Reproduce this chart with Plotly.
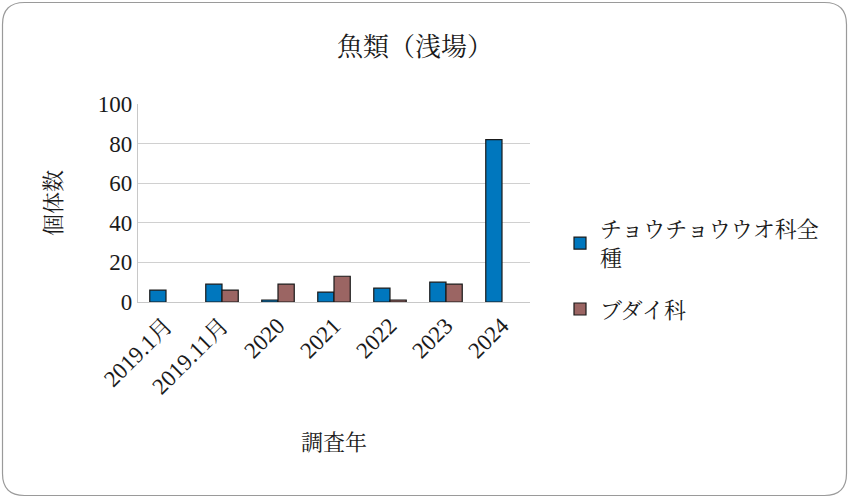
import plotly.graph_objects as go

categories = ["2019.1月", "2019.11月", "2020", "2021", "2022", "2023", "2024"]
chaetodontidae = [6, 9, 1, 5, 7, 10, 82]
scaridae = [None, 6, 9, 13, 1, 9, None]
series_names = ["チョウチョウウオ科全<br>種", "ブダイ科"]
title_text = "魚類（浅場）"
y_title = "個体数"
x_title = "調査年"

W, H = 850, 499
L, R, T, B = 138, 530, 104, 302
FONT = "Liberation Serif, 'Noto Serif CJK JP', 'Noto Sans CJK JP', serif"

fig = go.Figure()
fig.add_trace(go.Bar(x=categories, y=chaetodontidae, name=series_names[0], legendgroup="a",
                     marker=dict(color="#0077BE", line=dict(color="#1a1a1a", width=1.2))))
fig.add_trace(go.Bar(x=categories, y=scaridae, name=series_names[1], legendgroup="b",
                     marker=dict(color="#9B6563", line=dict(color="#1a1a1a", width=1.2))))

def px(x):
    return (x - L) / (R - L)

def py(y):
    return (B - y) / (B - T)

# rounded outer border
x0, x1, y0, y1, r = 2.5, 846.5, 2.5, 495.5, 22
path = (f"M {px(x0+r)},{py(y0)} L {px(x1-r)},{py(y0)} "
        f"Q {px(x1)},{py(y0)} {px(x1)},{py(y0+r)} "
        f"L {px(x1)},{py(y1-r)} Q {px(x1)},{py(y1)} {px(x1-r)},{py(y1)} "
        f"L {px(x0+r)},{py(y1)} Q {px(x0)},{py(y1)} {px(x0)},{py(y1-r)} "
        f"L {px(x0)},{py(y0+r)} Q {px(x0)},{py(y0)} {px(x0+r)},{py(y0)} Z")

fig.update_layout(
    width=W, height=H,
    margin=dict(l=L, r=W - R, t=T, b=H - B),
    paper_bgcolor="white", plot_bgcolor="white",
    font=dict(family=FONT, size=21, color="#1a1a1a"),
    title=dict(text=title_text, xref="container", yref="container",
               x=415 / W, xanchor="center", y=1 - 47 / H, yanchor="middle",
               font=dict(size=26, family=FONT)),
    barmode="group", bargap=0.42, bargroupgap=0.0,
    showlegend=True,
    legend=dict(x=px(560), y=py(208), xanchor="left", yanchor="top",
                font=dict(size=22, family=FONT), itemwidth=30, tracegroupgap=20,
                bgcolor="rgba(0,0,0,0)"),
    shapes=[dict(type="path", path=path, xref="paper", yref="paper",
                 line=dict(color="#9a9a9a", width=1.2), layer="below")],
    xaxis=dict(type="category", tickangle=-45, showgrid=False,
               showline=True, linecolor="#c8c8c8", linewidth=1.2,
               ticks="", tickfont=dict(size=23, family=FONT),
               title=dict(text=x_title, font=dict(size=22, family=FONT), standoff=36)),
    yaxis=dict(range=[0, 100], dtick=20, showgrid=True, gridcolor="#d0d0d0", gridwidth=1.2,
               showline=True, linecolor="#c8c8c8", linewidth=1.2, zeroline=False,
               ticks="", tickfont=dict(size=23, family=FONT),
               title=dict(text=y_title, font=dict(size=22, family=FONT), standoff=30)),
)

fig.write_html("out.html")
